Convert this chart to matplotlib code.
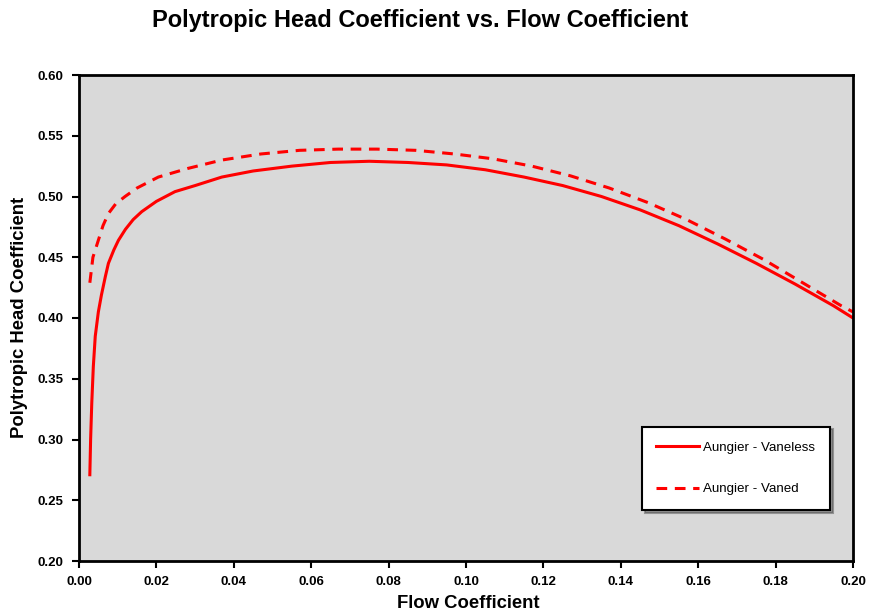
import matplotlib.pyplot as plt

plt.rcParams['font.family'] = ['Liberation Sans', 'DejaVu Sans']

# flow coefficient vs polytropic head coefficient, two diffuser types
flow_vaneless = [0.0028, 0.0030, 0.0033, 0.0037, 0.0042, 0.0050, 0.0058, 0.0068,
                 0.0076, 0.0090, 0.0102, 0.0120, 0.0140, 0.0162, 0.0200, 0.0248,
                 0.030, 0.0369, 0.045, 0.055, 0.065, 0.075, 0.085, 0.095, 0.105,
                 0.115, 0.125, 0.135, 0.145, 0.155, 0.165, 0.175, 0.185, 0.195, 0.200]
head_vaneless = [0.271, 0.300, 0.330, 0.360, 0.385, 0.405, 0.419, 0.434,
                 0.445, 0.456, 0.464, 0.473, 0.481, 0.4875, 0.496, 0.504,
                 0.509, 0.516, 0.521, 0.525, 0.528, 0.529, 0.528, 0.526, 0.522,
                 0.516, 0.509, 0.500, 0.489, 0.476, 0.461, 0.445, 0.428, 0.410, 0.400]

flow_vaned = [0.0028, 0.0036, 0.0050, 0.0062, 0.0076, 0.0095, 0.0119, 0.015,
              0.0205, 0.028, 0.0369, 0.047, 0.057, 0.067, 0.077, 0.087, 0.097,
              0.107, 0.117, 0.127, 0.137, 0.147, 0.157, 0.167, 0.177, 0.187,
              0.197, 0.200]
head_vaned = [0.429, 0.450, 0.464, 0.476, 0.486, 0.494, 0.500, 0.507,
              0.516, 0.523, 0.530, 0.535, 0.538, 0.539, 0.539, 0.538, 0.535,
              0.531, 0.525, 0.517, 0.507, 0.495, 0.481, 0.465, 0.448, 0.429,
              0.410, 0.405]

fig = plt.figure(figsize=(8.7, 6.16), dpi=100)
ax = fig.add_axes([79/870, 1 - 561/616, (853-79)/870, (561-75)/616])
ax.set_facecolor('#d9d9d9')

ax.plot(flow_vaneless, head_vaneless, color='#ff0000', lw=2.2, label='Aungier - Vaneless')
ax.plot(flow_vaned, head_vaned, color='#ff0000', lw=2.2, ls=(0, (3.5, 2.5)),
        label='Aungier - Vaned')

ax.set_xlim(0, 0.2)
ax.set_ylim(0.2, 0.6)
ax.set_xticks([i * 0.02 for i in range(11)])
ax.set_yticks([0.2 + i * 0.05 for i in range(9)])
ax.xaxis.set_major_formatter(plt.FormatStrFormatter('%.2f'))
ax.yaxis.set_major_formatter(plt.FormatStrFormatter('%.2f'))
ax.tick_params(direction='out', length=5, width=1.5, labelsize=9.5, pad=6)
for lbl in ax.get_xticklabels() + ax.get_yticklabels():
    lbl.set_fontweight('bold')
for s in ax.spines.values():
    s.set_linewidth(2)
    s.set_color('black')

fig.text(468/870, 1 - 603/616, 'Flow Coefficient', ha='center', va='center',
         fontsize=13.3, fontweight='bold')
fig.text(20/870, 1 - 317/616, 'Polytropic Head Coefficient', ha='center', va='center',
         rotation=90, fontsize=13.3, fontweight='bold')
fig.text(420/870, 1 - 21/616, 'Polytropic Head Coefficient vs. Flow Coefficient',
         ha='center', va='center', fontsize=17, fontweight='bold')

leg = ax.legend(loc='lower right', bbox_to_anchor=(0.970, 0.105), borderaxespad=0,
                fontsize=9.6, frameon=True, fancybox=False, shadow=True,
                handlelength=3.2, labelspacing=2.2, borderpad=1.1, handletextpad=0.3)
leg.get_frame().set_edgecolor('black')
leg.get_frame().set_linewidth(1.5)
leg.get_frame().set_facecolor('white')
leg.get_frame().set_alpha(1)

plt.savefig('out.png', dpi=100)
